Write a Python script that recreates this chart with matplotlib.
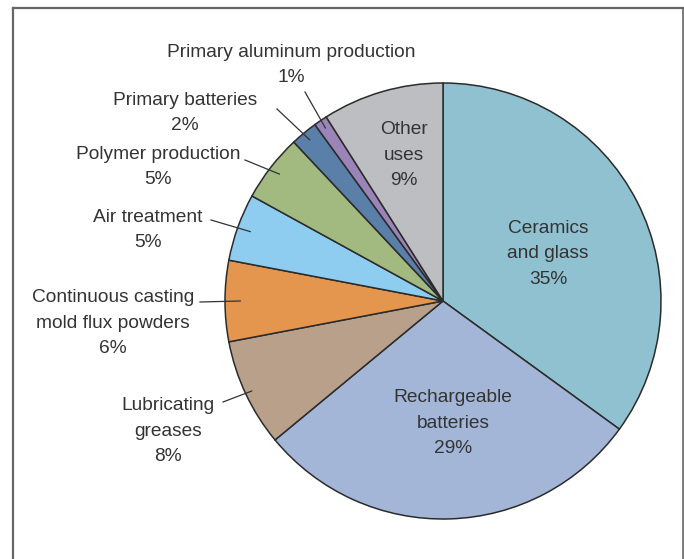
import matplotlib
matplotlib.use('Agg')
import matplotlib.pyplot as plt
import numpy as np

categories = ['Ceramics and glass', 'Rechargeable batteries', 'Lubricating greases',
              'Continuous casting mold flux powders', 'Air treatment', 'Polymer production',
              'Primary batteries', 'Primary aluminum production', 'Other uses']
shares = [35, 29, 8, 6, 5, 5, 2, 1, 9]
colors = ['#8FC1D0', '#A3B6D7', '#B9A08B', '#E4964E', '#8ECDF0',
          '#A2BA80', '#5A7FA8', '#9A84B8', '#BDBEC2']

W, H = 684, 559
fig = plt.figure(figsize=(W / 100, H / 100), dpi=100)
ax = fig.add_axes([0, 0, 1, 1])

# positions below are in screen pixels (y down); convert to data y
def Y(y):
    return H - y

cx, cy, R = 443, 301, 218
font = ['Liberation Sans Narrow', 'Liberation Sans', 'DejaVu Sans']
tc = '#333333'
fs = 13.8
ls = 1.62

wedges, _ = ax.pie(shares, colors=colors, startangle=90, counterclock=False,
                   center=(cx, Y(cy)), radius=R, frame=True,
                   wedgeprops=dict(edgecolor='#2b2b2b', linewidth=1.1))
ax.set_xlim(0, W)
ax.set_ylim(0, H)
ax.set_aspect('auto')
ax.axis('off')

cum = np.cumsum([0] + shares)
def wedge_point(i, frac):
    mid = (cum[i] + cum[i + 1]) / 2
    ang = np.deg2rad(90 - mid / 100 * 360)
    return cx + frac * R * np.cos(ang), Y(cy) + frac * R * np.sin(ang)

# inside labels
inside = {0: (548, 254), 1: (453, 423), 8: (404, 155)}
inside_txt = {0: 'Ceramics\nand glass\n35%', 1: 'Rechargeable\nbatteries\n29%', 8: 'Other\nuses\n9%'}
for i, (x, y) in inside.items():
    ax.text(x, Y(y), inside_txt[i], ha='center', va='center', fontsize=fs,
            family=font, color=tc, linespacing=ls)

# outside labels with leader lines
outside = [
    (7, 'Primary aluminum production\n1%', (291, 65), (305, 92), 0.96),
    (6, 'Primary batteries\n2%', (185, 113), (277, 109), 0.96),
    (5, 'Polymer production\n5%', (158, 167), (245, 160), 0.95),
    (4, 'Air treatment\n5%', (148, 230), (211, 220), 0.94),
    (3, 'Continuous casting\nmold flux powders\n6%', (113, 323), (200, 302), 0.93),
    (2, 'Lubricating\ngreases\n8%', (168, 431), (223, 402), 0.97),
]
for i, txt, (tx, ty), (lx, ly), frac in outside:
    ax.text(tx, Y(ty), txt, ha='center', va='center', fontsize=fs,
            family=font, color=tc, linespacing=ls)
    px, py = wedge_point(i, frac)
    ax.plot([lx, px], [Y(ly), py], color='#333333', linewidth=0.9)

# frame
ax.plot([13, 13], [0, Y(8)], color='#666666', linewidth=1.6)
ax.plot([13, W - 1], [Y(8), Y(8)], color='#666666', linewidth=1.6)
ax.plot([W - 1, W - 1], [Y(8), 0], color='#666666', linewidth=1.2)

fig.savefig('out.png', dpi=100)
